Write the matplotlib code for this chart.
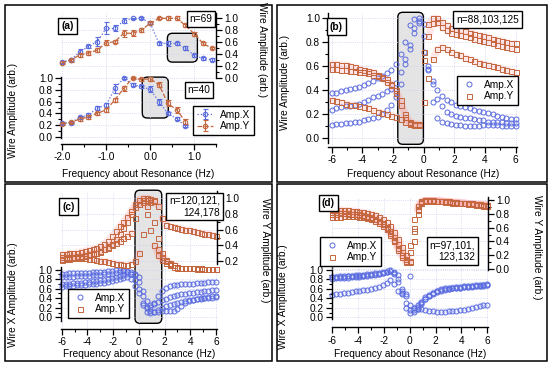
import numpy as np
import matplotlib
matplotlib.use('Agg')
import matplotlib.pyplot as plt
from matplotlib.patches import FancyBboxPatch, Rectangle
from matplotlib.transforms import IdentityTransform
from matplotlib.ticker import FormatStrFormatter

plt.rcParams['font.family'] = ['Liberation Sans', 'DejaVu Sans']
plt.rcParams['font.size'] = 7.3
plt.rcParams['axes.unicode_minus'] = False

W, H = 550, 369
BLUE = '#5b6cdf'
RED = '#c4673f'

# ---- panel (a): swept amplitudes with error bars ----
freq_ua = [-2.0, -1.8, -1.6, -1.4, -1.2, -1.0, -0.8, -0.6, -0.4, -0.2, 0.0, 0.2, 0.4, 0.6, 0.8, 1.0, 1.2, 1.4]
ua_x = [0.27, 0.31, 0.44, 0.53, 0.61, 0.83, 0.83, 0.96, 1.00, 1.00, 0.92, 0.58, 0.58, 0.58, 0.50, 0.38, 0.33, 0.31]
ua_x_err = [0.02, 0.02, 0.04, 0.03, 0.08, 0.10, 0.05, 0.04, 0.01, 0.02, 0.02, 0.03, 0.04, 0.03, 0.03, 0.02, 0.02, 0.02]
ua_y = [0.26, 0.30, 0.39, 0.42, 0.47, 0.59, 0.61, 0.75, 0.75, 0.80, 0.92, 1.00, 1.00, 1.00, 0.88, 0.74, 0.58, 0.50]
ua_y_err = [0.02, 0.02, 0.03, 0.03, 0.04, 0.04, 0.03, 0.06, 0.05, 0.03, 0.02, 0.02, 0.03, 0.03, 0.03, 0.03, 0.02, 0.02]

freq_la = [-2.0, -1.8, -1.6, -1.4, -1.2, -1.0, -0.8, -0.6, -0.4, -0.2, 0.0, 0.2, 0.4, 0.6, 0.8]
la_x = [0.23, 0.24, 0.33, 0.37, 0.49, 0.54, 0.83, 1.00, 0.89, 0.86, 0.81, 0.60, 0.40, 0.31, 0.18]
la_x_err = [0.02, 0.02, 0.03, 0.03, 0.03, 0.03, 0.08, 0.02, 0.03, 0.03, 0.05, 0.05, 0.02, 0.03, 0.02]
la_y = [0.22, 0.25, 0.30, 0.34, 0.40, 0.46, 0.63, 0.83, 1.00, 0.98, 0.99, 0.89, 0.57, 0.46, 0.26]
la_y_err = [0.02, 0.02, 0.03, 0.03, 0.03, 0.03, 0.04, 0.04, 0.02, 0.02, 0.03, 0.04, 0.05, 0.05, 0.04]

# ---- panels (b)-(d): frequency sweep, 0.3 Hz steps ----
freq = [-6.0, -5.7, -5.4, -5.1, -4.8, -4.5, -4.2, -3.9, -3.6, -3.3, -3.0, -2.7, -2.4, -2.1,
        -1.8, -1.5, -1.2, -0.9, -0.6, -0.3, 0.0, 0.3, 0.6, 0.9, 1.2, 1.5, 1.8, 2.1, 2.4, 2.7,
        3.0, 3.3, 3.6, 3.9, 4.2, 4.5, 4.8, 5.1, 5.4, 5.7, 6.0]

b_x1 = [0.38, 0.38, 0.39, 0.40, 0.41, 0.42, 0.43, 0.44, 0.46, 0.48, 0.50, 0.52, 0.54, 0.57, 0.62, 0.70, 0.80, 0.94, 0.99, 0.96,
        0.72, 0.57, 0.48, 0.40, 0.35, 0.32, 0.30, 0.28, 0.27, 0.26, 0.25, 0.24, 0.23, 0.22, 0.21, 0.20, 0.19, 0.18, 0.17, 0.16, 0.16]
b_x2 = [0.24, 0.25, 0.26, 0.27, 0.27, 0.28, 0.29, 0.30, 0.32, 0.34, 0.35, 0.37, 0.39, 0.41, 0.46, 0.55, 0.66, 0.78, 0.92, 1.00,
        0.85, 0.58, 0.45, 0.33, 0.27, 0.22, 0.20, 0.19, 0.18, 0.17, 0.17, 0.16, 0.15, 0.15, 0.14, 0.14, 0.14, 0.14, 0.13, 0.13, 0.13]
b_x3 = [0.11, 0.12, 0.12, 0.13, 0.13, 0.14, 0.14, 0.15, 0.16, 0.17, 0.18, 0.20, 0.24, 0.28, 0.34, 0.45, 0.62, 0.74, 0.88, 0.98,
        0.95, 0.60, 0.30, 0.17, 0.14, 0.13, 0.12, 0.11, 0.11, 0.10, 0.10, 0.10, 0.10, 0.11, 0.11, 0.11, 0.11, 0.10, 0.10, 0.10, 0.10]
b_y1 = [0.62, 0.62, 0.61, 0.61, 0.60, 0.59, 0.58, 0.57, 0.56, 0.55, 0.53, 0.51, 0.49, 0.45, 0.40, 0.32, 0.20, 0.14, 0.12, 0.12,
        0.72, 0.95, 1.00, 1.00, 0.97, 0.94, 0.92, 0.91, 0.90, 0.89, 0.88, 0.87, 0.86, 0.85, 0.84, 0.83, 0.82, 0.81, 0.80, 0.79, 0.79]
b_y2 = [0.58, 0.58, 0.57, 0.57, 0.56, 0.56, 0.55, 0.55, 0.54, 0.53, 0.52, 0.50, 0.47, 0.44, 0.38, 0.28, 0.18, 0.12, 0.11, 0.11,
        0.65, 0.85, 0.96, 0.97, 0.93, 0.90, 0.88, 0.87, 0.86, 0.85, 0.84, 0.83, 0.82, 0.81, 0.80, 0.79, 0.78, 0.77, 0.76, 0.75, 0.74]
b_y3 = [0.32, 0.31, 0.30, 0.29, 0.28, 0.28, 0.27, 0.26, 0.25, 0.24, 0.22, 0.21, 0.20, 0.19, 0.18, 0.16, 0.14, 0.13, 0.12, 0.11,
        0.30, 0.50, 0.66, 0.74, 0.76, 0.74, 0.72, 0.70, 0.69, 0.67, 0.66, 0.64, 0.63, 0.62, 0.61, 0.60, 0.59, 0.58, 0.57, 0.56, 0.55]

c_x1 = [0.92, 0.92, 0.93, 0.93, 0.93, 0.94, 0.94, 0.94, 0.95, 0.95, 0.96, 0.96, 0.97, 0.98, 0.99, 1.00, 0.99, 0.97, 0.95, 0.90,
        0.85, 0.55, 0.35, 0.25, 0.30, 0.45, 0.55, 0.62, 0.65, 0.67, 0.68, 0.69, 0.70, 0.70, 0.71, 0.72, 0.72, 0.73, 0.74, 0.74, 0.75]
c_x2 = [0.84, 0.84, 0.85, 0.85, 0.86, 0.86, 0.87, 0.87, 0.88, 0.88, 0.89, 0.90, 0.91, 0.92, 0.93, 0.95, 0.97, 0.96, 0.90, 0.78,
        0.60, 0.30, 0.20, 0.22, 0.28, 0.32, 0.36, 0.39, 0.42, 0.44, 0.46, 0.48, 0.49, 0.50, 0.52, 0.53, 0.54, 0.55, 0.56, 0.57, 0.58]
c_x3 = [0.70, 0.71, 0.71, 0.72, 0.73, 0.73, 0.74, 0.75, 0.76, 0.77, 0.78, 0.79, 0.80, 0.82, 0.84, 0.86, 0.88, 0.90, 0.91, 0.88,
        0.75, 0.45, 0.22, 0.13, 0.12, 0.16, 0.20, 0.23, 0.26, 0.28, 0.30, 0.32, 0.34, 0.36, 0.37, 0.38, 0.39, 0.40, 0.41, 0.41, 0.42]
c_x4 = [0.64, 0.65, 0.65, 0.66, 0.67, 0.67, 0.68, 0.69, 0.70, 0.71, 0.72, 0.73, 0.75, 0.77, 0.79, 0.81, 0.83, 0.85, 0.80, 0.65,
        0.50, 0.25, 0.11, 0.10, 0.11, 0.12, 0.13, 0.13, 0.13, 0.13, 0.18, 0.24, 0.30, 0.34, 0.36, 0.38, 0.40, 0.41, 0.42, 0.44, 0.45]
c_y1 = [0.29, 0.29, 0.30, 0.30, 0.31, 0.32, 0.33, 0.34, 0.35, 0.37, 0.39, 0.42, 0.46, 0.52, 0.58, 0.64, 0.70, 0.76, 0.84, 0.92,
        0.98, 1.00, 1.00, 0.99, 0.97, 0.90, 0.75, 0.66, 0.64, 0.63, 0.62, 0.61, 0.60, 0.59, 0.58, 0.57, 0.56, 0.55, 0.54, 0.53, 0.52]
c_y2 = [0.25, 0.25, 0.26, 0.26, 0.27, 0.27, 0.28, 0.29, 0.30, 0.31, 0.33, 0.35, 0.37, 0.40, 0.43, 0.46, 0.49, 0.52, 0.56, 0.75,
        0.92, 0.97, 0.98, 0.95, 0.70, 0.35, 0.25, 0.20, 0.17, 0.15, 0.13, 0.12, 0.12, 0.11, 0.11, 0.11, 0.11, 0.10, 0.10, 0.10, 0.10]
c_y3 = [0.23, 0.24, 0.24, 0.25, 0.25, 0.26, 0.27, 0.28, 0.29, 0.30, 0.32, 0.35, 0.38, 0.42, 0.48, 0.55, 0.62, 0.70, 0.80, 0.88,
        0.93, 0.95, 0.90, 0.60, 0.40, 0.28, 0.22, 0.18, 0.15, 0.13, 0.12, 0.12, 0.11, 0.11, 0.11, 0.10, 0.10, 0.10, 0.10, 0.10, 0.10]
c_y4 = [0.22, 0.23, 0.23, 0.24, 0.24, 0.24, 0.24, 0.23, 0.23, 0.22, 0.21, 0.20, 0.19, 0.18, 0.17, 0.16, 0.15, 0.15, 0.16, 0.20,
        0.30, 0.55, 0.80, 0.97, 0.96, 0.50, 0.30, 0.22, 0.18, 0.15, 0.13, 0.12, 0.12, 0.11, 0.11, 0.11, 0.11, 0.10, 0.10, 0.10, 0.10]

d_x1 = [0.85, 0.86, 0.86, 0.86, 0.87, 0.87, 0.87, 0.88, 0.88, 0.89, 0.90, 0.91, 0.92, 0.93, 0.95, 0.97, 0.96, 0.90, 0.60, 0.30,
        0.15, 0.12, 0.18, 0.28, 0.38, 0.46, 0.52, 0.56, 0.59, 0.61, 0.62, 0.63, 0.64, 0.65, 0.66, 0.66, 0.67, 0.68, 0.68, 0.69, 0.70]
d_x2 = [0.82, 0.83, 0.83, 0.84, 0.84, 0.85, 0.85, 0.86, 0.87, 0.88, 0.89, 0.90, 0.91, 0.93, 0.95, 0.98, 0.94, 0.80, 0.55, 0.20,
        0.10, 0.15, 0.22, 0.30, 0.38, 0.44, 0.49, 0.53, 0.56, 0.58, 0.60, 0.61, 0.62, 0.63, 0.64, 0.64, 0.65, 0.66, 0.66, 0.67, 0.68]
d_x3 = [0.48, 0.49, 0.50, 0.51, 0.52, 0.53, 0.55, 0.56, 0.57, 0.58, 0.60, 0.62, 0.65, 0.68, 0.72, 0.78, 0.70, 0.55, 0.52, 0.50,
        0.25, 0.20, 0.18, 0.17, 0.15, 0.14, 0.13, 0.12, 0.12, 0.12, 0.13, 0.13, 0.14, 0.15, 0.16, 0.18, 0.20, 0.22, 0.24, 0.25, 0.25]
d_x4 = [0.86, 0.86, 0.87, 0.87, 0.88, 0.88, 0.89, 0.89, 0.90, 0.91, 0.92, 0.93, 0.94, 0.96, 0.98, 0.99, 0.92, 0.75, 0.50, 0.45,
        0.88, 0.20, 0.25, 0.33, 0.42, 0.48, 0.52, 0.55, 0.57, 0.59, 0.60, 0.62, 0.63, 0.63, 0.64, 0.65, 0.66, 0.66, 0.67, 0.68, 0.69]
d_y1 = [0.86, 0.86, 0.86, 0.85, 0.85, 0.84, 0.84, 0.83, 0.82, 0.81, 0.80, 0.78, 0.76, 0.73, 0.68, 0.62, 0.54, 0.44, 0.32, 0.20,
        0.12, 0.40, 0.85, 0.95, 1.00, 1.00, 1.00, 0.99, 0.99, 0.98, 0.98, 0.97, 0.97, 0.96, 0.96, 0.95, 0.95, 0.94, 0.94, 0.93, 0.93]
d_y2 = [0.82, 0.82, 0.81, 0.81, 0.80, 0.80, 0.79, 0.78, 0.77, 0.76, 0.74, 0.72, 0.69, 0.65, 0.60, 0.52, 0.42, 0.30, 0.20, 0.12,
        0.10, 0.55, 0.87, 0.97, 0.99, 1.00, 0.99, 0.99, 0.98, 0.98, 0.97, 0.97, 0.96, 0.96, 0.95, 0.95, 0.94, 0.94, 0.93, 0.93, 0.92]
d_y3 = [0.75, 0.76, 0.76, 0.77, 0.77, 0.77, 0.77, 0.76, 0.75, 0.74, 0.72, 0.70, 0.67, 0.63, 0.58, 0.50, 0.40, 0.28, 0.18, 0.10,
        0.25, 0.72, 0.92, 0.98, 1.00, 0.99, 0.99, 0.98, 0.98, 0.97, 0.97, 0.96, 0.96, 0.95, 0.95, 0.94, 0.94, 0.93, 0.93, 0.92, 0.92]
d_y4 = [0.80, 0.80, 0.81, 0.81, 0.81, 0.80, 0.80, 0.79, 0.78, 0.77, 0.75, 0.73, 0.70, 0.66, 0.61, 0.55, 0.47, 0.36, 0.25, 0.15,
        0.35, 0.60, 0.80, 0.96, 0.99, 1.00, 1.00, 0.99, 0.99, 0.98, 0.98, 0.97, 0.97, 0.96, 0.96, 0.95, 0.95, 0.94, 0.94, 0.93, 0.93]

ticks01 = [0.0, 0.2, 0.4, 0.6, 0.8, 1.0]
minor01 = [0.1, 0.3, 0.5, 0.7, 0.9]
ticks_c_up = [0.2, 0.4, 0.6, 0.8, 1.0]
xt_a = [-2.0, -1.0, 0.0, 1.0]
xt_a_minor = [-1.5, -0.5, 0.5, 1.5]
xt_b = [-6, -4, -2, 0, 2, 4, 6]
xt_b_minor = [-5, -3, -1, 1, 3, 5]

fig = plt.figure(figsize=(5.5, 3.69), dpi=100)


def place(xcal, ycal, xlim, ylim):
    # axes rect from two pixel calibration points per axis
    (v0, p0), (v1, p1) = xcal
    sx = (p1 - p0) / (v1 - v0)
    left = p0 + (xlim[0] - v0) * sx
    right = p0 + (xlim[1] - v0) * sx
    (w0, q0), (w1, q1) = ycal
    sy = (q1 - q0) / (w1 - w0)
    top = q0 + (ylim[1] - w0) * sy
    bottom = q0 + (ylim[0] - w0) * sy
    ax = fig.add_axes([left / W, 1 - bottom / H, (right - left) / W, (bottom - top) / H])
    ax.set_xlim(xlim)
    ax.set_ylim(ylim)
    ax.patch.set_alpha(0)
    return ax


def common_ticks(ax):
    ax.tick_params(which='major', direction='out', length=4, width=0.9, labelsize=7.3, pad=2)
    ax.tick_params(which='minor', direction='out', length=2.2, width=0.8)
    for s in ax.spines.values():
        s.set_linewidth(1.0)
    ax.grid(True, which='major', color='#cdd0f0', lw=0.6, ls=':')


def lower_axis(ax, xt, xtm, xfmt, yt, ybounds):
    ax.spines['top'].set_visible(False)
    ax.spines['right'].set_visible(False)
    ax.spines['left'].set_bounds(*ybounds)
    ax.set_xticks(xt)
    ax.set_xticks(xtm, minor=True)
    ax.set_yticks(yt)
    ax.set_yticks(minor01, minor=True)
    ax.xaxis.set_major_formatter(FormatStrFormatter(xfmt))
    ax.yaxis.set_major_formatter(FormatStrFormatter('%.1f'))
    common_ticks(ax)


def upper_axis(ax, xt, yt, ytm):
    for s in ['top', 'left', 'bottom']:
        ax.spines[s].set_visible(False)
    ax.yaxis.tick_right()
    ax.set_xticks(xt)
    ax.set_yticks(yt)
    ax.set_yticks(ytm, minor=True)
    ax.yaxis.set_major_formatter(FormatStrFormatter('%.1f'))
    common_ticks(ax)
    ax.tick_params(axis='x', which='both', bottom=False, labelbottom=False)


def shade(ax, x0, x1, y0, y1):
    p0 = ax.transData.transform((x0, y0))
    p1 = ax.transData.transform((x1, y1))
    box = FancyBboxPatch(tuple(p0), p1[0] - p0[0], p1[1] - p0[1],
                         boxstyle='round,pad=0,rounding_size=5', transform=IdentityTransform(),
                         fc='#e4e4e4', ec='black', lw=1.0, zorder=0.5, clip_on=False)
    ax.add_artist(box)


def tag(x, y, s, bold=False):
    fig.text(x / W, 1 - y / H, s, ha='center', va='center', multialignment='right',
             fontsize=7.3, fontweight='bold' if bold else 'normal', linespacing=1.15,
             bbox=dict(boxstyle='square,pad=0.3', fc='white', ec='black', lw=1.0), zorder=10)


def legend(ax, handles, l, t):
    leg = ax.legend(handles, ['Amp.X', 'Amp.Y'], loc='upper left', bbox_to_anchor=(l / W, 1 - t / H),
                    bbox_transform=fig.transFigure, frameon=True, fancybox=False, framealpha=1,
                    edgecolor='black', borderpad=0.35, labelspacing=0.15, handlelength=1.6,
                    handletextpad=0.7, borderaxespad=0, fontsize=7.3)
    leg.get_frame().set_linewidth(1.0)
    leg.set_zorder(10)


def scat(ax, ys, color, marker, halo=None):
    handle = None
    xa = np.array(freq, float)
    for y in ys:
        ya = np.array(y, float)
        if halo:
            # soft band along each curve, broken at the resonance jumps
            cut = np.where(np.abs(np.diff(ya)) > 0.12)[0] + 1
            ax.plot(np.insert(xa, cut, np.nan), np.insert(ya, cut, np.nan), color=halo[0], lw=5,
                    alpha=halo[1], solid_capstyle='round', zorder=1)
        handle, = ax.plot(xa, ya, ls='none', marker=marker, ms=3.6, mfc='none', mec=color,
                          mew=0.7, zorder=2, clip_on=False)
    return handle


def xlabel(x, y, s='Frequency about Resonance (Hz)'):
    fig.text(x / W, 1 - y / H, s, ha='center', va='center', fontsize=7.3)


def ylabel(x, y, s, rot=90):
    fig.text(x / W, 1 - y / H, s, ha='center', va='center', fontsize=7.3, rotation=rot)


# ================= (a) =================
xcal_a = ((-2.0, 62.0), (1.0, 194.3))
ax_al = place(xcal_a, ((0.0, 136.7), (1.0, 78.3)), (-2.02, 1.5), (-0.12, 1.02))
lower_axis(ax_al, xt_a, xt_a_minor, '%.1f', ticks01, (-0.03, 1.02))
ebx = ax_al.errorbar(freq_la, la_x, yerr=la_x_err, fmt='o', ls=':', lw=0.9, color=BLUE, ms=3.2,
                     mfc='none', mew=0.8, capsize=1.8, elinewidth=0.8, zorder=3, clip_on=False)
eby = ax_al.errorbar(freq_la, la_y, yerr=la_y_err, fmt='o', ls='--', lw=0.9, color=RED, ms=3.2,
                     mfc='none', mew=0.8, capsize=1.8, elinewidth=0.8, zorder=3, clip_on=False)
shade(ax_al, -0.18, 0.41, 0.32, 1.02)

ax_au = place(xcal_a, ((0.0, 78.3), (1.0, 18.3)), (-2.02, 1.5), (0.0, 1.08))
upper_axis(ax_au, xt_a, ticks01, minor01)
ax_au.errorbar(freq_ua, ua_x, yerr=ua_x_err, fmt='o', ls=':', lw=0.9, color=BLUE, ms=3.2,
               mfc='none', mew=0.8, capsize=1.8, elinewidth=0.8, zorder=3, clip_on=False)
ax_au.errorbar(freq_ua, ua_y, yerr=ua_y_err, fmt='o', ls='--', lw=0.9, color=RED, ms=3.2,
               mfc='none', mew=0.8, capsize=1.8, elinewidth=0.8, zorder=3, clip_on=False)
shade(ax_au, 0.39, 1.07, 0.27, 0.75)
legend(ax_au, [ebx, eby], 193, 106)

tag(67.5, 26, '(a)', bold=True)
tag(201, 19, 'n=69')
tag(199, 90, 'n=40')
xlabel(138, 174)
ylabel(12.7, 110, 'Wire Amplitude (arb.)')
ylabel(261.7, 50, 'Wire Amplitude (arb.)', rot=-90)

# ================= (b) =================
ax_b = place(((-6, 331.7), (6, 515.7)), ((0.0, 138.3), (1.0, 18.3)), (-6.22, 6.07), (-0.07, 1.04))
lower_axis(ax_b, xt_b, xt_b_minor, '%d', ticks01, (-0.04, 1.04))
shade(ax_b, -1.69, -0.02, -0.05, 1.05)
hb_x = scat(ax_b, [b_x1, b_x2, b_x3], BLUE, 'o')
hb_y = scat(ax_b, [b_y1, b_y2, b_y3], RED, 's', halo=('#ff7f7f', 0.18))
legend(ax_b, [hb_x, hb_y], 457, 76)
tag(336.5, 26.5, '(b)', bold=True)
tag(487.5, 19.5, 'n=88,103,125')
xlabel(423, 174)
ylabel(285, 82, 'Wire Amplitude (arb.)')

# ================= (c) =================
xcal_c = ((-6, 61.7), (6, 216.0))
ax_cl = place(xcal_c, ((0.0, 317.3), (1.0, 269.7)), (-6.05, 6.05), (-0.245, 1.05))
lower_axis(ax_cl, xt_b, xt_b_minor, '%d', ticks01, (-0.07, 1.05))
shade(ax_cl, -0.30, 1.78, -0.126, 2.67)
hc_x = scat(ax_cl, [c_x1, c_x2, c_x3, c_x4], BLUE, 'o', halo=('#9fb0ff', 0.12))

ax_cu = place(xcal_c, ((0.2, 261.3), (1.0, 198.0)), (-6.05, 6.05), (0.17, 1.09))
upper_axis(ax_cu, xt_b, ticks_c_up, [0.3, 0.5, 0.7, 0.9])
hc_y = scat(ax_cu, [c_y1, c_y2, c_y3, c_y4], RED, 's', halo=('#ff7f7f', 0.2))
legend(ax_cu, [hc_x, hc_y], 68, 289)
tag(68.5, 206.5, '(c)', bold=True)
tag(194.7, 206.5, 'n=120,121,\n124,178')
xlabel(139, 354)
ylabel(13, 295, 'Wire X Amplitude (arb.)')
ylabel(265, 250, 'Wire Y Amplitude (arb.)', rot=-90)

# ================= (d) =================
xcal_d = ((-6, 332.3), (6, 487.3))
ax_dl = place(xcal_d, ((0.0, 317.3), (1.0, 270.0)), (-6.05, 6.02), (-0.21, 1.06))
lower_axis(ax_dl, xt_b, xt_b_minor, '%d', ticks01, (-0.04, 1.06))
hd_x = scat(ax_dl, [d_x1, d_x2, d_x3, d_x4], BLUE, 'o', halo=('#9fb0ff', 0.12))

ax_du = place(xcal_d, ((0.0, 269.0), (1.0, 200.0)), (-6.05, 6.02), (-0.01, 1.04))
upper_axis(ax_du, xt_b, ticks01, minor01)
hd_y = scat(ax_du, [d_y1, d_y2, d_y3, d_y4], RED, 's', halo=('#ff7f7f', 0.2))
legend(ax_du, [hd_x, hd_y], 320, 237)
tag(328.5, 203, '(d)', bold=True)
tag(452.5, 251, 'n=97,101,\n123,132')
xlabel(410, 354)
ylabel(283, 297, 'Wire X Amplitude (arb.)')
ylabel(537, 247, 'Wire Y Amplitude (arb.)', rot=-90)

# panel frames
for l, t, r, b in [(5, 5, 272, 182), (277, 5, 547, 182), (5, 184, 272, 361), (277, 184, 547, 361)]:
    fig.add_artist(Rectangle((l / W, 1 - b / H), (r - l) / W, (b - t) / H, transform=fig.transFigure,
                             fill=False, ec='black', lw=1.1))

fig.savefig('out.png', dpi=100)
